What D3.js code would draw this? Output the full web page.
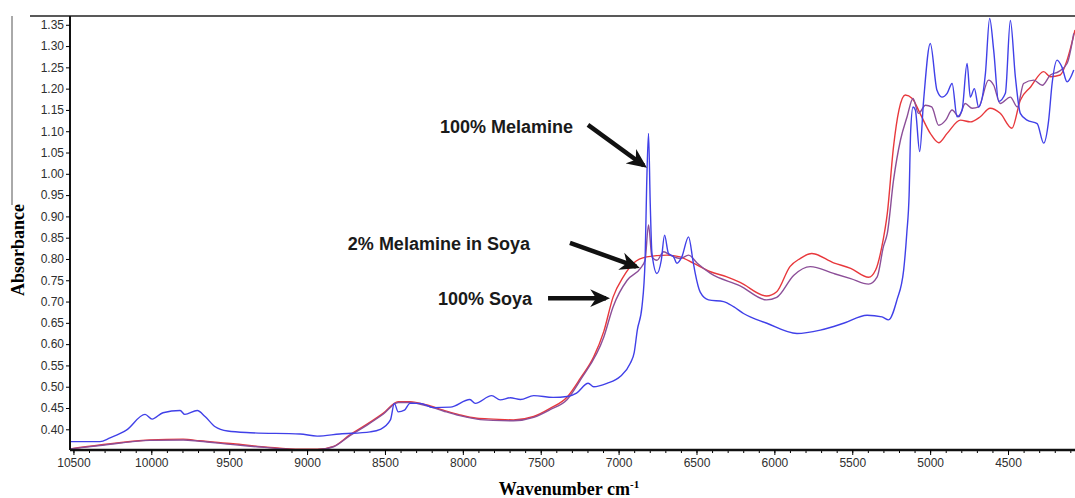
<!DOCTYPE html>
<html>
<head>
<meta charset="utf-8">
<script src="https://cdn.jsdelivr.net/npm/d3@7"></script>
<style>
  body { margin: 0; background: #fff; }
  svg { display: block; }
  .tick text { font-family: Arial, "Liberation Sans", sans-serif; font-size: 12px; fill: #2e2e2e; }
</style>
</head>
<body>
<svg width="1075" height="498"></svg>
<script>
// wavenumber (cm-1) / absorbance pairs
var melamineWn = [10520, 10330, 10265, 10160, 10040, 9995, 9925, 9815, 9785, 9705, 9655, 9590, 9510, 9365, 9045, 8935, 8790, 8595, 8530, 8465, 8440, 8415, 8375, 8340, 8275, 8190, 8080, 7955, 7920, 7815, 7760, 7695, 7630, 7545, 7420, 7330, 7270, 7195, 7160, 7075, 6990, 6925, 6900, 6880, 6850, 6830, 6820, 6808, 6797, 6786, 6754, 6726, 6705, 6680, 6647, 6626, 6594, 6551, 6523, 6508, 6476, 6423, 6326, 6262, 6198, 6048, 5855, 5705, 5556, 5405, 5309, 5267, 5213, 5170, 5150, 5135, 5125, 5110, 5095, 5067, 5042, 4999, 4956, 4924, 4891, 4859, 4827, 4795, 4763, 4742, 4716, 4689, 4645, 4618, 4592, 4560, 4517, 4485, 4453, 4421, 4378, 4313, 4271, 4239, 4217, 4185, 4153, 4121, 4078];
var melamineAbs = [0.371, 0.371, 0.380, 0.398, 0.435, 0.424, 0.439, 0.444, 0.435, 0.444, 0.430, 0.406, 0.396, 0.392, 0.389, 0.384, 0.389, 0.394, 0.400, 0.422, 0.461, 0.441, 0.445, 0.461, 0.461, 0.451, 0.452, 0.470, 0.461, 0.479, 0.469, 0.474, 0.470, 0.479, 0.475, 0.477, 0.485, 0.508, 0.500, 0.508, 0.524, 0.555, 0.580, 0.633, 0.688, 0.797, 0.970, 1.095, 0.931, 0.814, 0.766, 0.797, 0.856, 0.813, 0.805, 0.790, 0.805, 0.852, 0.797, 0.766, 0.722, 0.704, 0.700, 0.688, 0.672, 0.649, 0.625, 0.633, 0.649, 0.668, 0.664, 0.657, 0.704, 0.774, 0.860, 0.950, 1.100, 1.157, 1.150, 1.052, 1.172, 1.306, 1.196, 1.180, 1.189, 1.212, 1.134, 1.150, 1.259, 1.180, 1.200, 1.157, 1.236, 1.365, 1.290, 1.170, 1.189, 1.360, 1.228, 1.142, 1.126, 1.118, 1.072, 1.126, 1.212, 1.267, 1.250, 1.216, 1.244];

var soyaWn = [10520, 10330, 10010, 9795, 9690, 9475, 9255, 9045, 8935, 8830, 8725, 8615, 8510, 8415, 8340, 8230, 8125, 8020, 7910, 7805, 7675, 7545, 7440, 7330, 7245, 7160, 7095, 7035, 6970, 6905, 6820, 6690, 6605, 6520, 6410, 6305, 6220, 6050, 5985, 5900, 5835, 5760, 5620, 5510, 5395, 5350, 5310, 5275, 5235, 5200, 5160, 5115, 5065, 4999, 4945, 4891, 4805, 4742, 4678, 4615, 4550, 4475, 4421, 4355, 4271, 4228, 4165, 4121, 4070];
var soyaAbs = [0.354, 0.363, 0.375, 0.377, 0.373, 0.366, 0.358, 0.353, 0.353, 0.360, 0.387, 0.412, 0.438, 0.465, 0.465, 0.457, 0.445, 0.434, 0.426, 0.424, 0.422, 0.430, 0.449, 0.476, 0.520, 0.570, 0.630, 0.711, 0.758, 0.790, 0.805, 0.809, 0.805, 0.790, 0.770, 0.758, 0.745, 0.713, 0.723, 0.782, 0.801, 0.813, 0.791, 0.778, 0.757, 0.774, 0.829, 0.907, 1.064, 1.150, 1.185, 1.177, 1.142, 1.095, 1.073, 1.095, 1.126, 1.122, 1.134, 1.154, 1.142, 1.107, 1.173, 1.204, 1.240, 1.228, 1.232, 1.267, 1.338];

var mixWn = [10520, 10330, 10010, 9795, 9690, 9475, 9255, 9045, 8935, 8830, 8725, 8615, 8510, 8415, 8340, 8230, 8125, 8020, 7910, 7805, 7675, 7545, 7440, 7330, 7245, 7095, 7035, 6945, 6860, 6830, 6808, 6786, 6754, 6710, 6670, 6605, 6551, 6495, 6410, 6220, 6050, 5985, 5875, 5770, 5620, 5510, 5395, 5340, 5300, 5275, 5235, 5190, 5148, 5110, 5075, 5030, 4990, 4945, 4900, 4859, 4815, 4775, 4730, 4689, 4625, 4592, 4550, 4485, 4440, 4400, 4335, 4280, 4228, 4175, 4121, 4078];
var mixAbs = [0.354, 0.362, 0.374, 0.375, 0.372, 0.364, 0.357, 0.352, 0.352, 0.359, 0.385, 0.410, 0.436, 0.463, 0.463, 0.455, 0.443, 0.432, 0.424, 0.421, 0.420, 0.428, 0.446, 0.470, 0.516, 0.617, 0.688, 0.750, 0.778, 0.797, 0.880, 0.805, 0.797, 0.817, 0.809, 0.801, 0.809, 0.790, 0.766, 0.737, 0.704, 0.710, 0.762, 0.782, 0.766, 0.754, 0.741, 0.758, 0.829, 0.860, 0.985, 1.080, 1.134, 1.177, 1.142, 1.161, 1.157, 1.114, 1.126, 1.150, 1.134, 1.165, 1.154, 1.157, 1.220, 1.208, 1.165, 1.180, 1.157, 1.212, 1.220, 1.208, 1.232, 1.240, 1.259, 1.330];

var xTicks = [10500, 10000, 9500, 9000, 8500, 8000, 7500, 7000, 6500, 6000, 5500, 5000, 4500];
var yTicks = [0.40, 0.45, 0.50, 0.55, 0.60, 0.65, 0.70, 0.75, 0.80, 0.85, 0.90, 0.95, 1.00, 1.05, 1.10, 1.15, 1.20, 1.25, 1.30, 1.35];

var annoLabels = ["100% Melamine", "2% Melamine in Soya", "100% Soya"];
var annoTargets = [[6818, 1.014], [6863, 0.779], [7055, 0.708]];

var svg = d3.select("svg");
var plotL = 70, plotR = 1075, plotT = 16, plotB = 450;

var x = d3.scaleLinear().domain([10522, 4070]).range([plotL, plotR]);
var y = d3.scaleLinear().domain([0.3514, 1.3706]).range([plotB, plotT]);

function zip(wn, ab) {
    return wn.map(function(w, i) { return {wn: w, abs: ab[i]}; });
}
var series = [
    {data: zip(soyaWn, soyaAbs), color: "#e8383c"},
    {data: zip(mixWn, mixAbs), color: "#8c4f98"},
    {data: zip(melamineWn, melamineAbs), color: "#4040e8"}
];

svg.append("clipPath").attr("id", "clip")
    .append("rect").attr("x", plotL).attr("y", plotT)
    .attr("width", plotR - plotL).attr("height", plotB - plotT);

var line = d3.line()
    .x(function(d) { return x(d.wn); })
    .y(function(d) { return y(d.abs); })
    .curve(d3.curveMonotoneX);

svg.append("g").attr("clip-path", "url(#clip)")
    .selectAll("path")
    .data(series)
    .enter().append("path")
        .attr("fill", "none")
        .attr("stroke", function(d) { return d.color; })
        .attr("stroke-width", 1.4)
        .attr("stroke-linejoin", "round")
        .attr("d", function(d) { return line(d.data); });

// frame bits
svg.append("line").attr("x1", 30).attr("x2", plotR).attr("y1", plotT).attr("y2", plotT)
    .attr("stroke", "#222").attr("stroke-width", 1.5);
svg.append("line").attr("x1", 12).attr("x2", 12).attr("y1", plotT).attr("y2", 205)
    .attr("stroke", "#555").attr("stroke-width", 1);

// axes
var yAxis = svg.append("g")
    .attr("transform", "translate(" + plotL + ",0)")
    .call(d3.axisLeft(y).tickValues(yTicks).tickFormat(d3.format(".2f")).tickSize(4).tickPadding(2));
yAxis.select(".domain").attr("stroke", "#111").attr("stroke-width", 2)
    .attr("d", "M0," + plotT + "V" + plotB);

var xMinor = d3.range(10500, 4000, -100);
svg.append("g")
    .attr("transform", "translate(0," + plotB + ")")
    .call(d3.axisBottom(x).tickValues(xMinor).tickFormat("").tickSize(3))
    .call(function(g) { g.select(".domain").remove(); });
var xAxis = svg.append("g")
    .attr("transform", "translate(0," + plotB + ")")
    .call(d3.axisBottom(x).tickValues(xTicks).tickFormat(d3.format("d")).tickSize(5).tickPadding(3));
xAxis.select(".domain").attr("stroke", "#111").attr("stroke-width", 2.5)
    .attr("d", "M" + plotL + ",0H" + plotR);

svg.append("text")
    .attr("transform", "translate(24,250) rotate(-90)")
    .attr("text-anchor", "middle")
    .style("font-family", "'Liberation Serif', 'Times New Roman', serif")
    .style("font-weight", "bold")
    .style("font-size", "18px")
    .text("Absorbance");

var xl = svg.append("text")
    .attr("x", 569).attr("y", 495)
    .attr("text-anchor", "middle")
    .style("font-family", "'Liberation Serif', 'Times New Roman', serif")
    .style("font-weight", "bold")
    .style("font-size", "18px")
    .text("Wavenumber cm");
xl.append("tspan").attr("dy", -7).style("font-size", "11px").text("-1");

// annotations
svg.append("defs").append("marker")
    .attr("id", "head")
    .attr("viewBox", "0 0 10 10")
    .attr("refX", 8).attr("refY", 5)
    .attr("markerWidth", 4.4).attr("markerHeight", 4.4)
    .attr("orient", "auto")
    .append("path").attr("d", "M0,0.5L10,5L0,9.5L3,5Z").attr("fill", "#111");

var tails = [[-59, -43], [-70, -25], [-62, 0]];
var textOff = [[-15, 8], [-40, 7], [-16, 7]];

annoLabels.forEach(function(lbl, i) {
    var tx = x(annoTargets[i][0]), ty = y(annoTargets[i][1]);
    var sx = tx + tails[i][0], sy = ty + tails[i][1];
    var len = Math.hypot(tx - sx, ty - sy);
    svg.append("line")
        .attr("x1", sx).attr("y1", sy)
        .attr("x2", tx - (tx - sx) * 4 / len).attr("y2", ty - (ty - sy) * 4 / len)
        .attr("stroke", "#111").attr("stroke-width", 4.5)
        .attr("marker-end", "url(#head)");
    svg.append("text")
        .attr("x", sx + textOff[i][0]).attr("y", sy + textOff[i][1])
        .attr("text-anchor", "end")
        .style("font-family", "Arial, 'Liberation Sans', sans-serif")
        .style("font-weight", "bold")
        .style("font-size", "18px")
        .style("fill", "#1a1a1a")
        .text(lbl);
});
</script>
</body>
</html>
